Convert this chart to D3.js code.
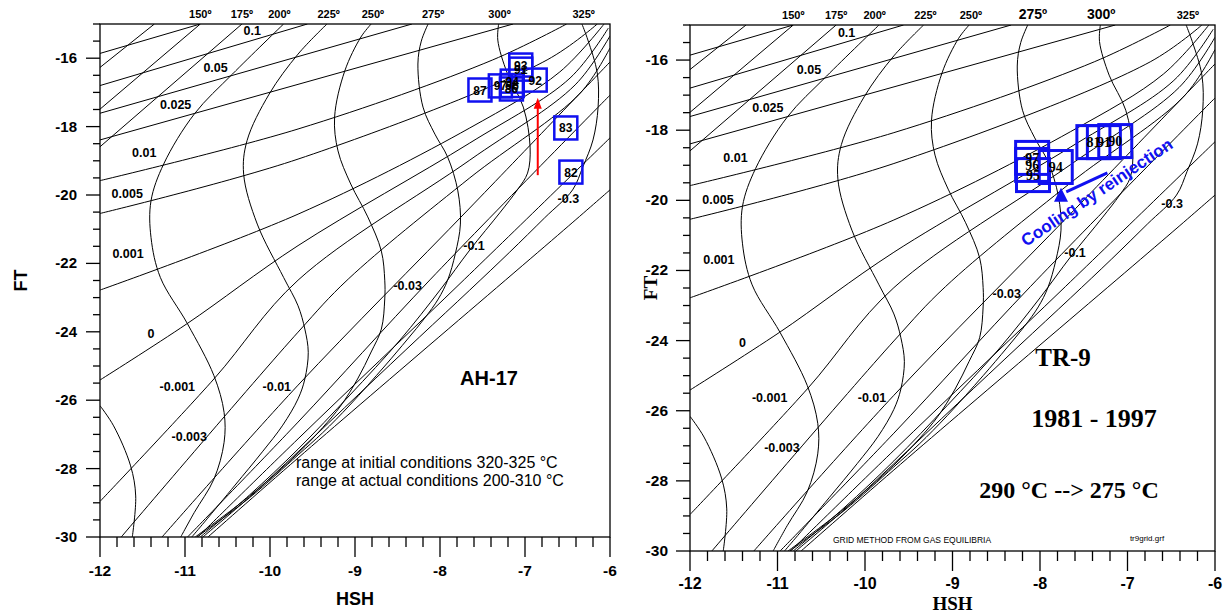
<!DOCTYPE html>
<html><head><meta charset="utf-8">
<script src="https://cdn.jsdelivr.net/npm/d3@7"></script>
<style>body{margin:0;background:#fff}svg{display:block}</style>
</head><body>
<svg id="chart" width="1223" height="616"></svg>
<script>
// ---- tick labels ----
const xTickValues = [-12, -11, -10, -9, -8, -7, -6];
const yTickValues = [-30, -28, -26, -24, -22, -20, -18, -16];

// ---- isotherms (HSH, FT) ----
const isothermNames = ["100", "125", "150", "175", "200", "225", "250", "275", "300", "325"];
const isothermPoints = [
  [[-12,-26.16],[-11.84,-26.75],[-11.64,-27.92],[-11.58,-28.80],[-11.62,-30]],
  [[-12,-16.27],[-11.36,-15]],
  [[-12,-17.49],[-10.82,-15]],
  [[-12,-18.59],[-10.33,-15]],
  [[-9.84,-15],[-10.44,-16.46],[-10.89,-17.63],[-11.25,-19.09],[-11.40,-20.17],[-11.40,-21.24],[-11.29,-22.41],[-10.97,-23.77],[-10.66,-25.28],[-10.54,-26.36],[-10.54,-27.23],[-10.66,-28.31],[-10.89,-29.28],[-11.05,-30]],
  [[-9.33,-15],[-9.67,-15.88],[-10.01,-17.05],[-10.27,-18.41],[-10.31,-19.39],[-10.15,-20.85],[-9.84,-22.41],[-9.67,-23.24],[-9.59,-23.92],[-9.55,-24.60],[-9.59,-25.38],[-9.67,-25.96],[-9.85,-26.73],[-10.09,-27.51],[-10.41,-28.48],[-10.77,-29.56],[-10.92,-30]],
  [[-8.81,-15],[-8.93,-15.38],[-9.12,-16.37],[-9.24,-17.72],[-9.20,-18.71],[-9.05,-19.68],[-8.85,-20.64],[-8.69,-21.64],[-8.65,-22.49],[-8.65,-23.04],[-8.69,-23.92],[-8.81,-24.59],[-8.97,-25.38],[-9.17,-26.17],[-9.38,-26.80],[-9.67,-27.55],[-10.24,-28.80],[-10.88,-30]],
  [[-8.14,-15],[-8.22,-15.50],[-8.26,-16.17],[-8.20,-17.43],[-8.06,-18.22],[-7.91,-18.89],[-7.79,-19.88],[-7.76,-20.85],[-7.82,-21.72],[-7.91,-22.49],[-8.02,-23.04],[-8.18,-23.60],[-8.38,-24.21],[-8.65,-25.00],[-9.06,-26.14],[-9.38,-26.95],[-9.67,-27.60],[-10.24,-28.85],[-10.86,-30]],
  [[-7.31,-15],[-7.32,-15.47],[-7.21,-16.43],[-7.02,-17.43],[-6.94,-18.60],[-6.97,-19.36],[-7.09,-19.85],[-7.29,-20.50],[-7.65,-21.61],[-8.00,-22.78],[-8.47,-24.24],[-9.06,-25.85],[-9.67,-27.43],[-10.24,-28.77],[-10.82,-30]],
  [[-6.33,-15],[-6.26,-15.47],[-6.15,-16.43],[-6.14,-17.43],[-6.20,-18.39],[-6.32,-19.18],[-6.44,-19.85],[-6.77,-20.67],[-7.18,-21.67],[-7.65,-22.78],[-8.24,-24.15],[-8.94,-25.79],[-9.67,-27.51],[-10.24,-28.83],[-10.79,-30]]
];
const isothermLabels = ["150º", "175º", "200º", "225º", "250º", "275º", "300º", "325º"];
const isothermLabelHSH = [-10.82, -10.33, -9.89, -9.31, -8.79, -8.08, -7.30, -6.31];

// ---- vapour-fraction lines (HSH, FT) ----
const vaporNames = ["0.3", "0.1", "0.05", "0.025", "0.01", "0.005", "0.001", "0", "-0.001", "-0.003", "-0.01", "-0.03", "-0.1", "-0.3"];
const vaporPoints = [
  [[-12,-15.86],[-10.82,-15]],
  [[-12,-16.80],[-9.56,-15]],
  [[-12,-17.61],[-8.33,-15]],
  [[-12,-18.39],[-7.14,-15]],
  [[-12,-19.58],[-9.67,-18.07],[-7.38,-16.05],[-6.51,-15]],
  [[-12,-20.54],[-9.67,-18.95],[-6.74,-16.05],[-6.15,-15]],
  [[-12,-22.78],[-9.67,-20.56],[-7.65,-18.04],[-6.59,-16.40],[-6.07,-15]],
  [[-12,-25.41],[-10.98,-23.77],[-9.67,-21.48],[-7.65,-18.48],[-6.47,-16.58],[-6.02,-15.12]],
  [[-12,-28.96],[-10.66,-25.38],[-9.67,-22.49],[-7.65,-18.98],[-6.41,-16.78],[-6,-15.35]],
  [[-11.75,-30],[-9.67,-24.01],[-9.08,-22.46],[-7.65,-19.50],[-6.35,-17.02],[-6,-15.70]],
  [[-11.27,-30],[-9.67,-25.56],[-7.65,-20.38],[-6,-16.11]],
  [[-10.97,-30],[-9.67,-26.64],[-8.11,-22.46],[-6,-17.08]],
  [[-10.85,-30],[-9.67,-27.13],[-7.71,-22.46],[-6,-18.33]],
  [[-10.73,-30],[-9.67,-27.69],[-6.49,-20.91],[-6,-19.85]]
];
const vaporLabels = ["0.1", "0.05", "0.025", "0.01", "0.005", "0.001", "0", "-0.001", "-0.003", "-0.01", "-0.03", "-0.1", "-0.3"];
const vaporLabelHSH = [-10.21, -10.64, -11.11, -11.48, -11.68, -11.67, -11.40, -11.09, -10.95, -9.92, -8.38, -7.60, -6.49];
const vaporLabelFT  = [-15.20, -16.26, -17.34, -18.77, -19.97, -21.70, -24.04, -25.61, -27.05, -25.61, -22.66, -21.49, -20.09];

// ---- AH-17 samples ----
const ahYears = ["87", "97", "86", "96", "94", "92", "93", "91", "83", "82"];
const ahHSH = [-7.53, -7.29, -7.16, -7.15, -7.15, -6.88, -7.05, -7.05, -6.52, -6.46];
const ahFT  = [-16.93, -16.81, -16.90, -16.80, -16.67, -16.64, -16.20, -16.32, -18.04, -19.33];
const ahArrowHSH = [-6.85, -6.85];
const ahArrowFT = [-19.42, -17.16];

// ---- TR-9 samples ----
const trYears = ["97", "96", "95", "94", "81", "91", "90"];
const trHSH = [-8.09, -8.09, -8.08, -7.82, -7.39, -7.27, -7.14];
const trFT  = [-18.79, -18.99, -19.28, -19.05, -18.34, -18.34, -18.31];
const trArrowHSH = [-7.23, -7.70];
const trArrowFT = [-19.22, -19.76];
const trMarkHSH = -7.76, trMarkFT = -19.87;

const svg = d3.select("#chart");
const SANS = "Liberation Sans, Arial, sans-serif";
const SERIF = "Liberation Serif, Times New Roman, serif";

function drawPanel(cfg) {
  const x = d3.scaleLinear().domain([-12, -6]).range([cfg.x0, cfg.x1]);
  const y = d3.scaleLinear().domain([-30, -15]).range([cfg.y1, cfg.y0]);
  const g = svg.append("g");
  const clipId = "clip" + cfg.id;
  g.append("clipPath").attr("id", clipId).append("rect")
    .attr("x", cfg.x0).attr("y", cfg.y0).attr("width", cfg.x1 - cfg.x0).attr("height", cfg.y1 - cfg.y0);
  const curved = d3.line().x(d => x(d[0])).y(d => y(d[1])).curve(d3.curveCatmullRom.alpha(0.5));
  const grid = g.append("g").attr("clip-path", `url(#${clipId})`)
    .attr("fill", "none").attr("stroke", "#000").attr("stroke-width", 1);
  grid.selectAll(".iso").data(isothermPoints).join("path").attr("class", "iso").attr("d", curved);
  grid.selectAll(".vap").data(vaporPoints).join("path").attr("class", "vap").attr("d", curved);

  // frame
  g.append("rect").attr("x", cfg.x0).attr("y", cfg.y0).attr("width", cfg.x1 - cfg.x0).attr("height", cfg.y1 - cfg.y0)
    .attr("fill", "none").attr("stroke", "#000").attr("stroke-width", 1.3);

  // x axis ticks: minor every 0.2, major every 1
  const minorX = d3.range(-12, -5.999, 0.2).map(v => +v.toFixed(1));
  g.append("g").attr("stroke", "#000").attr("stroke-width", 1.3)
    .selectAll("line").data(minorX).join("line")
    .attr("x1", d => x(d)).attr("x2", d => x(d))
    .attr("y1", cfg.y1).attr("y2", d => cfg.y1 + (Math.abs(d - Math.round(d)) < 1e-6 ? 20 : 10));
  g.append("g").selectAll("text").data(xTickValues).join("text")
    .attr("x", d => x(d)).attr("y", cfg.y1 + cfg.xLabelDy).attr("text-anchor", "middle")
    .attr("font-family", SANS).attr("font-weight", "bold").attr("font-size", cfg.tickFont)
    .text(d => d);

  // y axis ticks: minor every 0.5, labelled every 2
  const minorY = d3.range(-30, -14.999, 0.5);
  g.append("g").attr("stroke", "#000").attr("stroke-width", 1.3)
    .selectAll("line").data(minorY).join("line")
    .attr("y1", d => y(d)).attr("y2", d => y(d))
    .attr("x1", cfg.x0).attr("x2", d => cfg.x0 - (yTickValues.includes(d) ? 14 : 7));
  g.append("g").selectAll("text").data(yTickValues).join("text")
    .attr("x", cfg.x0 - cfg.yLabelGap).attr("y", d => y(d) + 5).attr("text-anchor", "end")
    .attr("font-family", SANS).attr("font-weight", "bold").attr("font-size", cfg.tickFont - 0.5)
    .text(d => d);

  // isotherm labels along the top
  g.append("g").selectAll("text").data(isothermLabels).join("text")
    .attr("x", (d, i) => x(isothermLabelHSH[i])).attr("y", cfg.y0 - 6).attr("text-anchor", "middle")
    .attr("font-family", SANS).attr("font-weight", "bold")
    .attr("font-size", d => cfg.bigLabels.includes(d) ? 14 : 11)
    .text(d => d);

  // vapour-fraction labels
  g.append("g").selectAll("text").data(vaporLabels).join("text")
    .attr("x", (d, i) => x(vaporLabelHSH[i])).attr("y", (d, i) => y(vaporLabelFT[i]) + 4.5)
    .attr("text-anchor", "middle")
    .attr("font-family", SANS).attr("font-weight", "bold").attr("font-size", 12.5)
    .text(d => d);

  // axis titles
  g.append("text").attr("x", (cfg.x0 + cfg.x1) / 2).attr("y", cfg.hshY).attr("text-anchor", "middle")
    .attr("font-family", cfg.titleFont).attr("font-weight", "bold").attr("font-size", cfg.titleSize).text("HSH");
  g.append("text").attr("transform", `translate(${cfg.ftX},${(cfg.y0 + cfg.y1) / 2}) rotate(-90)`)
    .attr("text-anchor", "middle")
    .attr("font-family", cfg.titleFont).attr("font-weight", "bold").attr("font-size", cfg.titleSize).text("FT");

  return { g, x, y };
}

// ---- left panel: AH-17 ----
const left = drawPanel({ id: "L", x0: 100, x1: 610, y0: 24, y1: 537, xLabelDy: 39, yLabelGap: 23, tickFont: 15.5,
  hshY: 605, ftX: 27, titleSize: 18, bigLabels: [], titleFont: SANS });
{
  const { g, x, y } = left;
  const bw = 23, bh = 23;
  const pts = g.append("g");
  ahYears.forEach((yr, i) => {
    const cx = x(ahHSH[i]), cy = y(ahFT[i]);
    pts.append("rect").attr("x", cx - bw / 2).attr("y", cy - bh / 2).attr("width", bw).attr("height", bh)
      .attr("fill", "none").attr("stroke", "#1010f0").attr("stroke-width", 2.5);
  });
  ahYears.forEach((yr, i) => {
    pts.append("text").attr("x", x(ahHSH[i])).attr("y", y(ahFT[i]) + 4.5).attr("text-anchor", "middle")
      .attr("font-family", SANS).attr("font-weight", "bold").attr("font-size", 12)
      .text(yr);
  });
  const ax = x(ahArrowHSH[0]), ay0 = y(ahArrowFT[0]), ay1 = y(ahArrowFT[1]);
  g.append("line").attr("x1", ax).attr("x2", ax).attr("y1", ay0).attr("y2", ay1 + 8)
    .attr("stroke", "#ff0000").attr("stroke-width", 2);
  g.append("path").attr("d", `M${ax},${ay1} L${ax - 4},${ay1 + 11} L${ax + 4},${ay1 + 11} Z`).attr("fill", "#ff0000");

  g.append("text").attr("x", 489).attr("y", 385).attr("text-anchor", "middle")
    .attr("font-family", SANS).attr("font-weight", "bold").attr("font-size", 20).text("AH-17");
  const note = g.append("g").attr("font-family", SANS).attr("font-size", 16);
  note.append("text").attr("x", 296).attr("y", 468).text("range at initial conditions 320-325 °C");
  note.append("text").attr("x", 296).attr("y", 486).text("range at actual conditions 200-310 °C");
}

// ---- right panel: TR-9 ----
const right = drawPanel({ id: "R", x0: 690, x1: 1215, y0: 25, y1: 551, xLabelDy: 38, yLabelGap: 22, tickFont: 16,
  hshY: 610, ftX: 657, titleSize: 19, bigLabels: ["275º", "300º"], titleFont: SERIF });
{
  const { g, x, y } = right;
  const bw = 33, bh = 33;
  const pts = g.append("g");
  trYears.forEach((yr, i) => {
    const cx = x(trHSH[i]), cy = y(trFT[i]);
    pts.append("rect").attr("x", cx - bw / 2).attr("y", cy - bh / 2).attr("width", bw).attr("height", bh)
      .attr("fill", "none").attr("stroke", "#1010f0").attr("stroke-width", 3);
  });
  trYears.forEach((yr, i) => {
    pts.append("text").attr("x", x(trHSH[i])).attr("y", y(trFT[i]) + 5).attr("text-anchor", "middle")
      .attr("font-family", SERIF).attr("font-weight", "bold").attr("font-size", 14)
      .text(yr);
  });
  const x1 = x(trArrowHSH[0]), y1 = y(trArrowFT[0]), x2 = x(trArrowHSH[1]), y2 = y(trArrowFT[1]);
  g.append("line").attr("x1", x1).attr("y1", y1).attr("x2", x2).attr("y2", y2)
    .attr("stroke", "#1010f0").attr("stroke-width", 3);
  const mx = x(trMarkHSH), my = y(trMarkFT);
  g.append("path").attr("d", `M${mx},${my - 8} L${mx - 7},${my + 6} L${mx + 7},${my + 6} Z`).attr("fill", "#1010f0");
  g.append("text").attr("transform", "translate(1100,197) rotate(-34)").attr("text-anchor", "middle")
    .attr("font-family", SANS).attr("font-weight", "bold").attr("font-size", 17)
    .attr("fill", "#1010f0").text("Cooling by reinjection");

  g.append("text").attr("x", 1063).attr("y", 366).attr("text-anchor", "middle").attr("font-family", SERIF)
    .attr("font-weight", "bold").attr("font-size", 25).text("TR-9");
  g.append("text").attr("x", 1094).attr("y", 427).attr("text-anchor", "middle").attr("font-family", SERIF)
    .attr("font-weight", "bold").attr("font-size", 26).text("1981 - 1997");
  g.append("text").attr("x", 1069).attr("y", 498).attr("text-anchor", "middle").attr("font-family", SERIF)
    .attr("font-weight", "bold").attr("font-size", 24).text("290 °C --> 275 °C");
  g.append("text").attr("x", 912).attr("y", 543).attr("text-anchor", "middle")
    .attr("font-family", SANS).attr("font-size", 8.5).text("GRID METHOD FROM GAS EQUILIBRIA");
  g.append("text").attr("x", 1147).attr("y", 541).attr("text-anchor", "middle")
    .attr("font-family", SANS).attr("font-size", 8).text("tr9grid.grf");
}
</script>
</body></html>
